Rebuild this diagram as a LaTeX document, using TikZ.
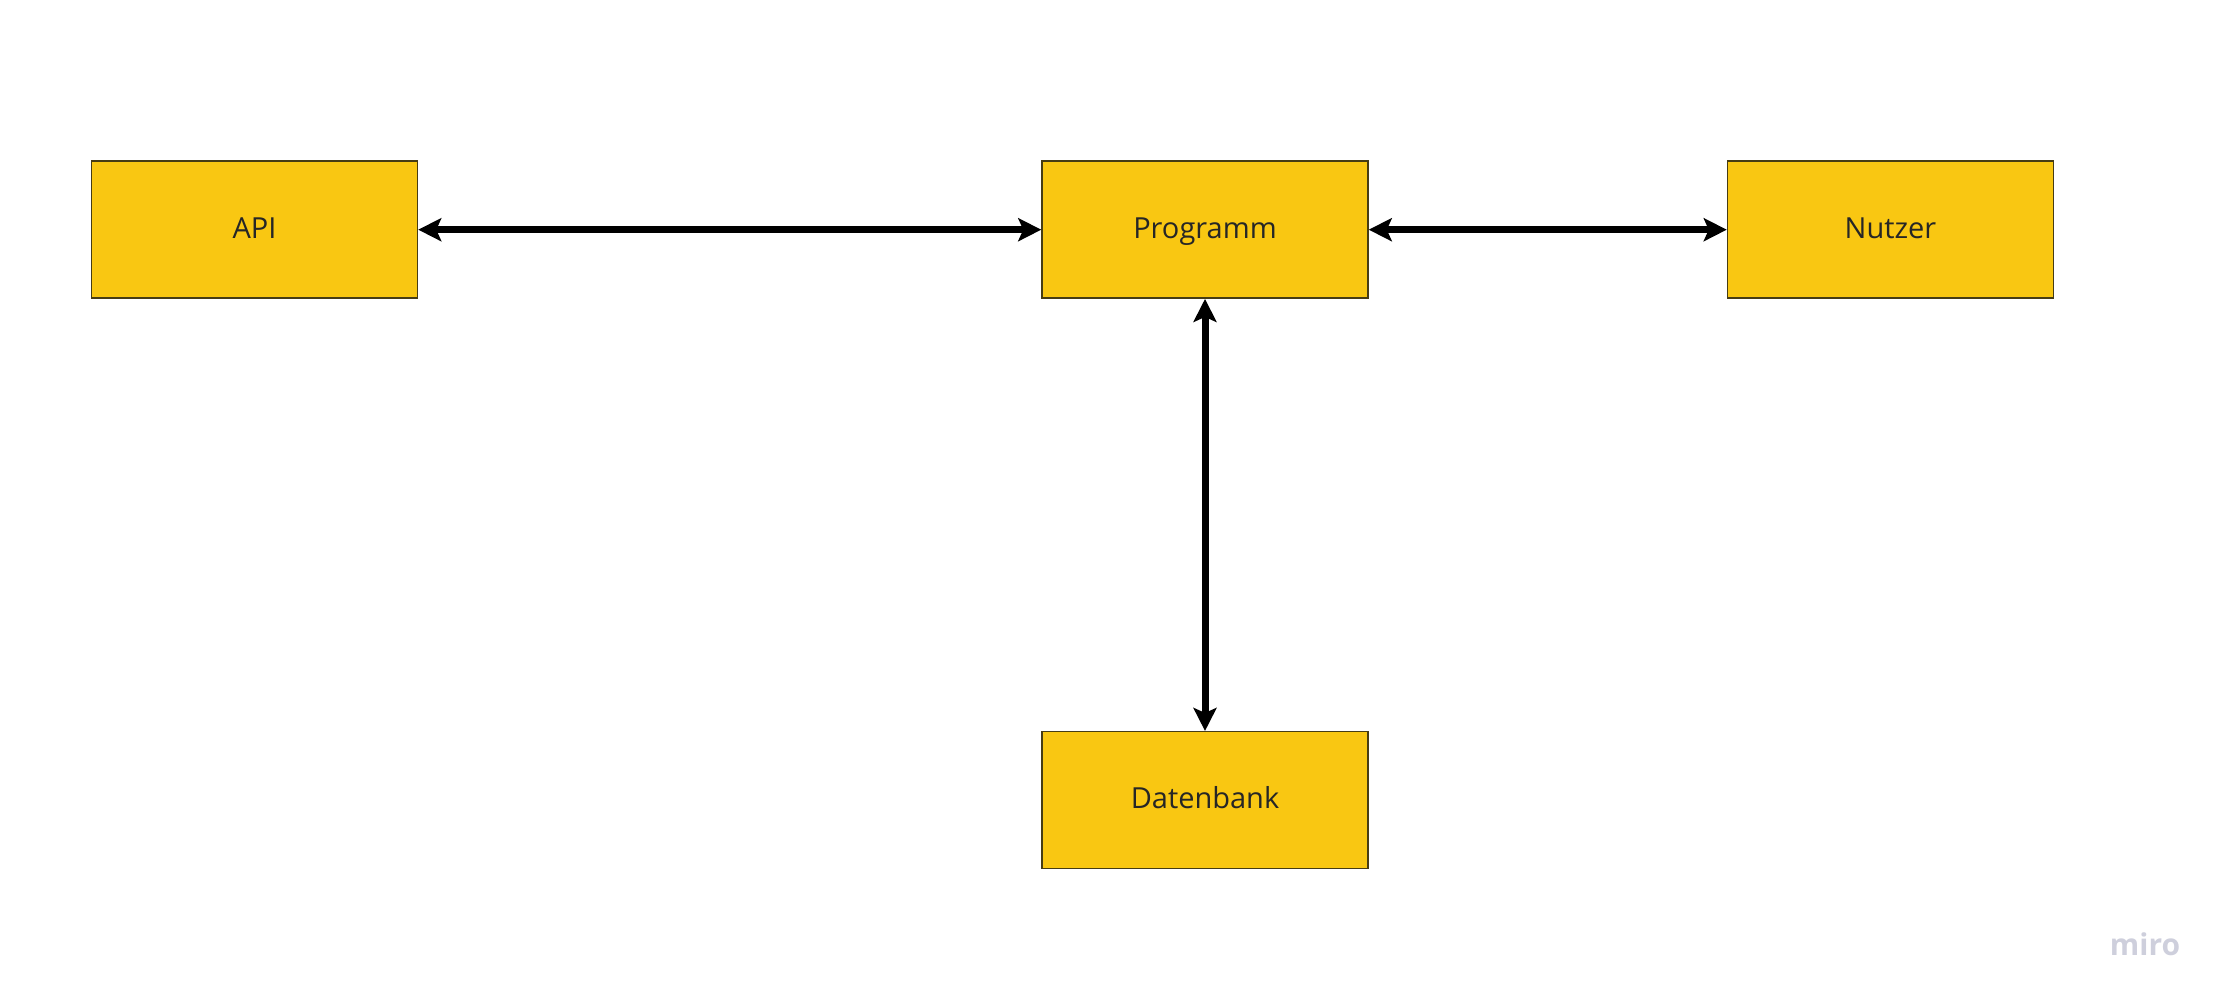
\documentclass[tikz,border=0pt]{standalone}
\usepackage{fontspec}
\setmainfont{Open Sans}
\usetikzlibrary{positioning}
\usetikzlibrary{arrows.meta}
\definecolor{boxfill}{RGB}{249,199,18}
\definecolor{boxline}{RGB}{70,60,20}
\definecolor{logogray}{RGB}{206,207,220}

\begin{document}
\begin{tikzpicture}[x=1pt,y=1pt,
    block/.style={draw=boxline,fill=boxfill,rectangle,line width=1.5pt,
        minimum width=326pt,minimum height=137pt,inner sep=0pt,
        text height=17pt,text depth=0pt,
        text=black!85,font=\fontsize{29}{34}\selectfont},
    link/.style={line width=7pt,{Stealth[length=23pt,width=23pt,inset=5pt]}-{Stealth[length=23pt,width=23pt,inset=5pt]}}]
\useasboundingbox (0,0) rectangle (2232,-1007);
\node[block] (programm) at (1205,-229.7) {Programm};
\node[block] (api) [left=623pt of programm] {API};
\node[block] (nutzer) [right=358pt of programm] {Nutzer};
\node[block] (datenbank) [below=432pt of programm] {Datenbank};
\node[text=logogray,font=\fontsize{30}{34}\selectfont\bfseries,anchor=base] (logo) at (2145,-955) {miro};

\draw[link] (api) -- (programm);
\draw[link] (programm) -- (nutzer);
\draw[link] (programm) -- (datenbank);
\end{tikzpicture}
\end{document}
